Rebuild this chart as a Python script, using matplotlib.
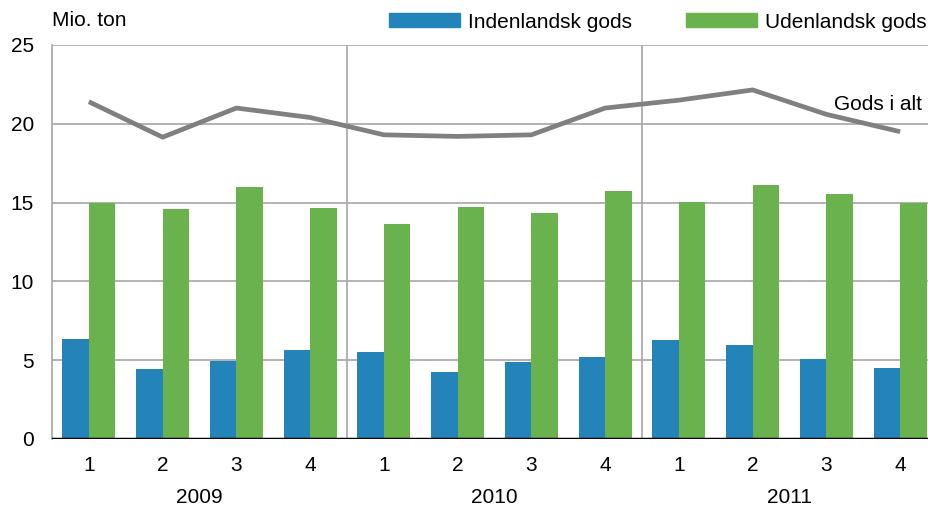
import numpy as np
import matplotlib.pyplot as plt
from matplotlib.patches import Patch

quarters = ["1", "2", "3", "4"] * 3
years = ["2009", "2010", "2011"]
indenlandsk = [6.35, 4.45, 4.95, 5.65, 5.55, 4.25, 4.9, 5.2, 6.3, 5.95, 5.05, 4.5]
udenlandsk = [14.97, 14.6, 16.0, 14.66, 13.65, 14.75, 14.35, 15.75, 15.05, 16.1, 15.55, 14.97]
gods_i_alt = [21.4, 19.15, 21.0, 20.4, 19.3, 19.2, 19.3, 21.0, 21.5, 22.15, 20.6, 19.5]

plt.rcParams['font.family'] = ['Liberation Sans', 'DejaVu Sans']

blue = '#2484b9'
green = '#6ab24d'
grid = '#a6a6a6'

fig = plt.figure(figsize=(9.29, 5.07), dpi=100)
ax = fig.add_axes([52 / 929, 68 / 507, 885 / 929, 394 / 507])

x = np.arange(len(quarters))
w = 0.36
ax.bar(x - w / 2, indenlandsk, w, color=blue, zorder=2)
ax.bar(x + w / 2, udenlandsk, w, color=green, zorder=2)
ax.plot(x, gods_i_alt, color='#808080', lw=3.4, zorder=3, solid_capstyle='butt')

ax.set_ylim(0, 25)
ax.set_xlim(-0.5, 11.5)
ax.set_yticks([0, 5, 10, 15, 20, 25])
for v in [5, 10, 15, 20, 25]:
    ax.axhline(v, color=grid, lw=1.2, zorder=1)
for xv in [3.5, 7.5]:
    ax.axvline(xv, color=grid, lw=1.2, zorder=1)
ax.axhline(0, color='black', lw=2.5, zorder=4)

for s in ['top', 'right', 'bottom']:
    ax.spines[s].set_visible(False)
ax.spines['left'].set_color(grid)
ax.spines['left'].set_linewidth(1.2)

ax.set_xticks(x)
ax.set_xticklabels(quarters)
ax.tick_params(axis='both', length=0, labelsize=15)
ax.tick_params(axis='x', pad=12)
ax.tick_params(axis='y', pad=13)

for i, yr in enumerate(years):
    ax.text(i * 4 + 1.5, -0.148, yr, transform=ax.get_xaxis_transform(),
            ha='center', va='center', fontsize=15)

ax.text(11.3, gods_i_alt[-1] + 1.7, "Gods i alt", ha='right', va='center', fontsize=15)
fig.text(52 / 929, 1 - 20 / 507, "Mio. ton", ha='left', va='center', fontsize=15)

handles = [Patch(color=blue, label='Indenlandsk gods'),
           Patch(color=green, label='Udenlandsk gods')]
fig.legend(handles=handles, loc='center right', bbox_to_anchor=(1.0, 1 - 22 / 507),
           ncol=2, frameon=False, fontsize=15, handlelength=3.4, handleheight=0.65,
           handletextpad=0.4, columnspacing=2.6, borderaxespad=0, borderpad=0.1)

fig.savefig('out.png', dpi=100)
